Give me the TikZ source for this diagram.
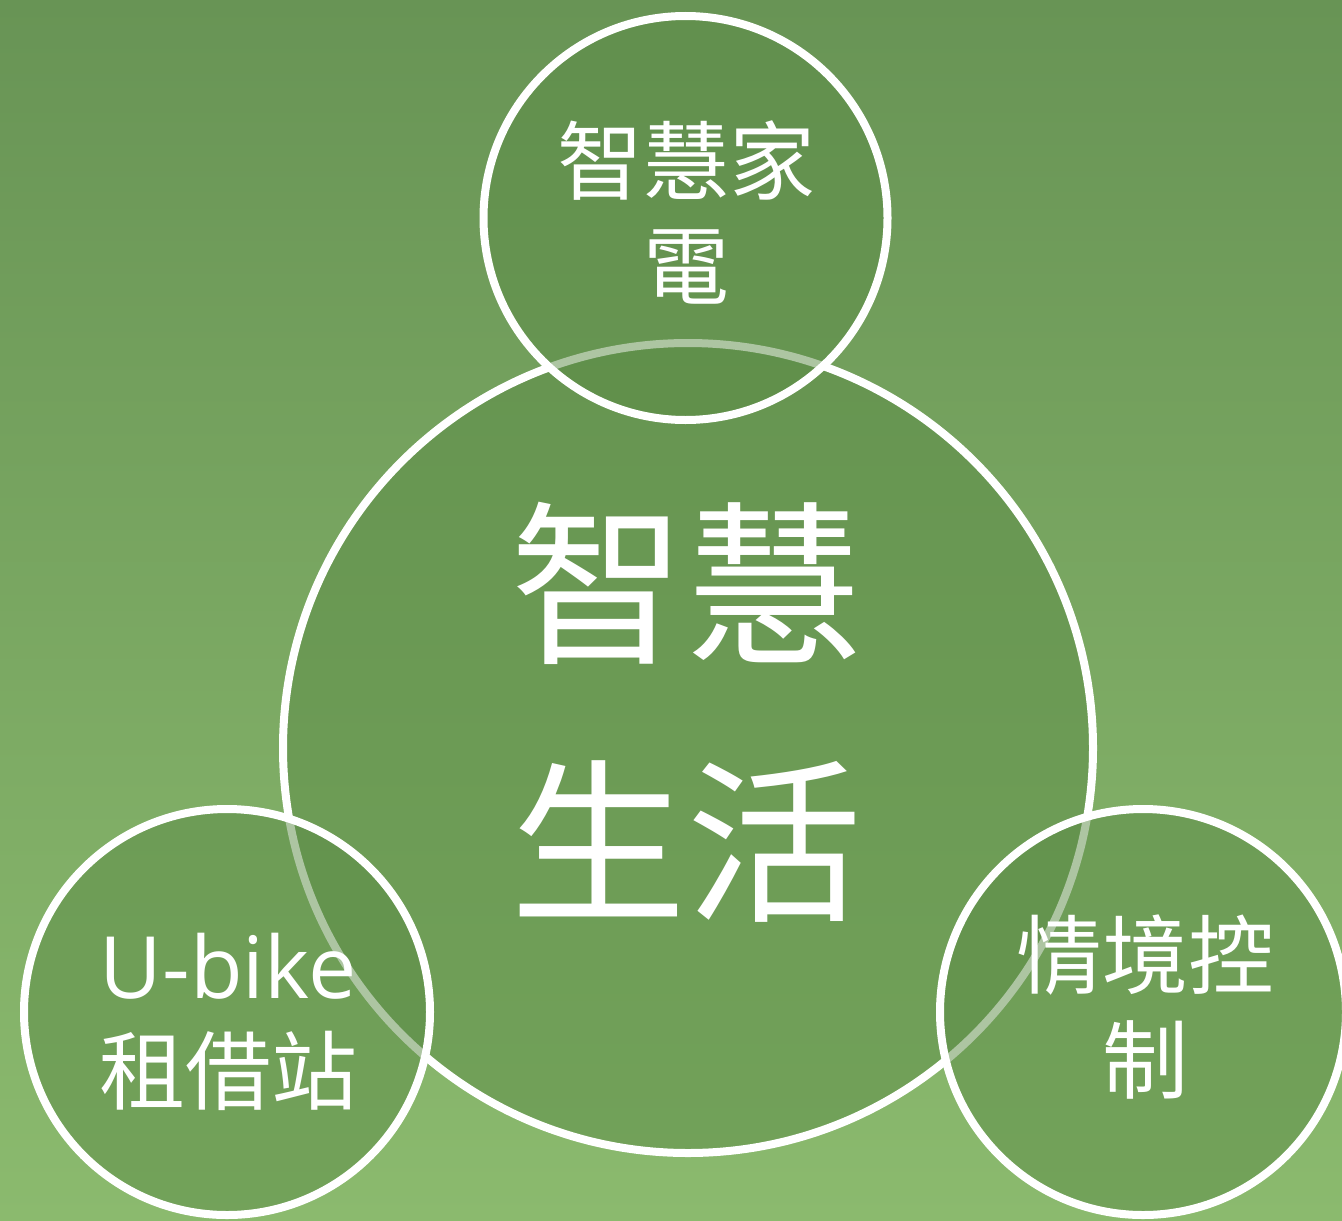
\documentclass[tikz,border=0pt]{standalone}
\usepackage{fontspec}
\setmainfont{Noto Sans CJK TC}
\newfontfamily\latinfont{Open Sans}
\begin{document}
\begin{tikzpicture}[x=0.5pt,y=-0.5pt,
  ring/.style={circle, draw=white, line width=4pt, fill=ringfill, fill opacity=0.5, draw opacity=1, inner sep=0pt, outer sep=0pt},
  bigtext/.style={text=white, align=center, font=\fontsize{88}{129}\selectfont, inner sep=0pt},
  smalltext/.style={text=white, align=center, font=\fontsize{43}{52.5}\selectfont, inner sep=0pt}]
\definecolor{bgtop}{HTML}{689455}
\definecolor{bgbot}{HTML}{8BBA6E}
\definecolor{ringfill}{HTML}{5C8C47}
\useasboundingbox (0,0) rectangle (1342,1220);
\clip (0,0) rectangle (1342,1220);
\shade[top color=bgtop, bottom color=bgbot] (0,0) rectangle (1342,1220);
% circles
\node[ring, minimum size=405pt] (life) at (688,748) {};
\node[ring, minimum size=202pt] (home) at (685.5,218) {};
\node[ring, minimum size=203pt] (bike) at (227,1012) {};
\node[ring, minimum size=203pt] (scene) at (1143,1012) {};
% texts
\node[bigtext] (lifet) at (686,712) {智慧\\生活};
\node[smalltext] (homet) at (686,212) {智慧家\\電};
\node[smalltext] (biket) at (228,1022) {{\latinfont U-bike}\\租借站};
\node[smalltext] (scenet) at (1145,1007) {情境控\\制};
\end{tikzpicture}
\end{document}
